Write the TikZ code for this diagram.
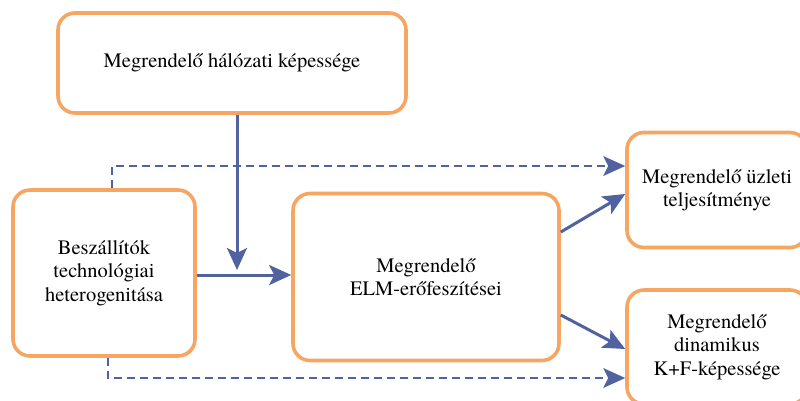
\documentclass[tikz,border=0pt]{standalone}
\usepackage{fontspec}
\setmainfont{texgyretermes}[Extension=.otf, UprightFont=*-regular, BoldFont=*-bold, ItalicFont=*-italic, BoldItalicFont=*-bolditalic]
\usetikzlibrary{arrows.meta}
\definecolor{boxorange}{RGB}{246,166,98}
\definecolor{linkblue}{RGB}{80,99,160}
\tikzset{
  box/.style={draw=boxorange, line width=3.6pt, rounded corners=17pt, fill=white,
    align=center, inner sep=0pt, font=\fontsize{20.5}{23.5}\selectfont},
  link/.style={draw=linkblue, line width=3pt,
    -{Stealth[length=22pt,width=20pt,inset=5pt]}},
  dlink/.style={draw=linkblue, line width=2.8pt, dash pattern=on 8pt off 5pt,
    -{Stealth[length=22pt,width=20pt,inset=5pt,line width=0pt]}},
}
\begin{document}
\begin{tikzpicture}[x=1pt,y=-1pt]
\useasboundingbox (0,0) rectangle (800,400);
% boxes
\node[box, minimum width=348pt, minimum height=100pt] (b1) at (232,63) {Megrendelő hálózati képessége};
\node[box, minimum width=182pt, minimum height=166pt] (b2) at (104,273) {Beszállítók\\technológiai\\heterogenitása};
\node[box, minimum width=266pt, minimum height=167pt] (b3) at (426,277) {Megrendelő\\ELM-erőfeszítései};
\node[box, minimum width=180pt, minimum height=115pt] (b4) at (717,190) {Megrendelő üzleti\\teljesítménye};
\node[box, minimum width=180pt, minimum height=114pt] (b5) at (717,347) {Megrendelő\\dinamikus\\K+F-képessége};
% helper points for connector routes
\coordinate (vt) at (237,270);
\coordinate (hz) at (0,275);
\coordinate (dt) at (112,166);
\coordinate (db) at (108,378);
\coordinate (u1) at (0,232);
\coordinate (u2) at (0,194);
\coordinate (l1) at (0,315);
\coordinate (l2) at (0,349);
% connectors
\draw[link] (b1.south -| vt) -- (vt);
\draw[link] (b2.east |- hz) -- (b3.west |- hz);
\draw[dlink] (b2.north -| dt) |- (b4.west |- dt);
\draw[dlink] (b2.south -| db) |- (b5.west |- db);
\draw[link] (b3.east |- u1) -- (b4.west |- u2);
\draw[link] (b3.east |- l1) -- (b5.west |- l2);
\end{tikzpicture}
\end{document}
